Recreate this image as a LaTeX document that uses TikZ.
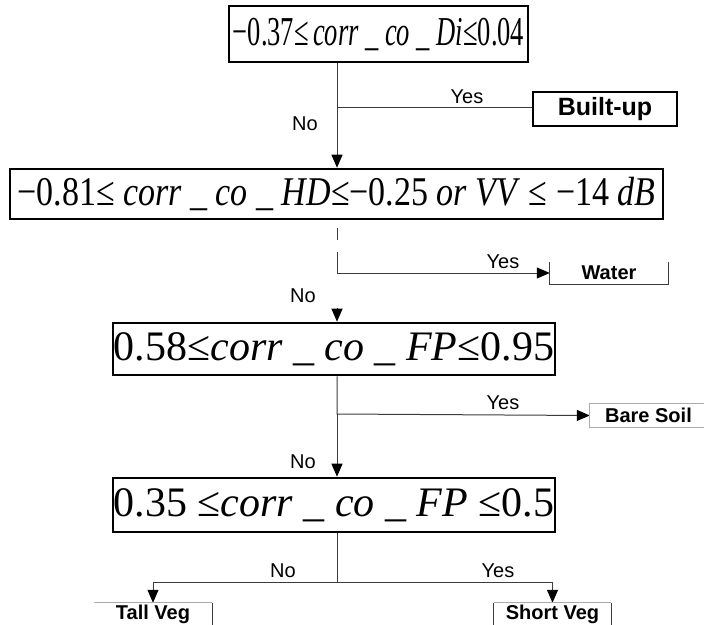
\documentclass[tikz,border=0pt]{standalone}
\usepackage{fontspec}
\setmainfont{Liberation Serif}
\newfontfamily\labelfont{Liberation Sans}
\usepackage{graphicx}
\usetikzlibrary{calc,arrows.meta}
\definecolor{linegray}{RGB}{60,60,60}
\definecolor{edgegray}{RGB}{170,170,170}
\newcommand{\stretched}[2]{\scalebox{1}[#1]{#2}}

\begin{document}
\begin{tikzpicture}[
  x=1pt, y=-1pt,
  decision/.style={draw=black, line width=2.6pt, inner sep=0pt,
    minimum width=#1},
  label/.style={font=\labelfont\fontsize{20}{20}\selectfont, inner sep=0pt},
  classbox/.style={font=\labelfont\bfseries\fontsize{20}{20}\selectfont, inner sep=0pt},
  link/.style={linegray, line width=1pt},
  arr/.style={link, -{Triangle[length=13pt, width=11pt, color=black]}},
]
  \useasboundingbox (0,0) rectangle (704,624);
  \clip (0,0) rectangle (704,624);

  % Decision 1: built-up
  \node[decision=299pt, minimum height=56pt,
    font=\fontsize{26.5}{26.5}\selectfont] (d1) at (378.5,34)
    {\stretched{1.55}{−0.37≤\,\textit{corr \_ co \_ Di}≤0.04}};
  \coordinate (j1) at (337,107);
  \node[classbox, draw=black, line width=1.6pt, minimum width=144pt,
    minimum height=34pt, font=\labelfont\bfseries\fontsize{25}{25}\selectfont]
    (builtup) at (605,109) {Built-up};
  \draw[link] (d1.south -| j1) -- (j1) -- (j1 -| builtup.west);
  \node[label] (yes1) at (467,97) {Yes};
  \node[label] (no1) at (305,124) {No};

  % Decision 2: water
  \node[decision=653pt, minimum height=50pt,
    font=\fontsize{34}{34}\selectfont] (d2) at (336.5,194)
    {\stretched{1.2}{−0.81≤ \textit{corr \_ co \_ HD}≤−0.25 \textit{or VV} ≤ −14 \textit{dB}}};
  \draw[arr] (j1) -- (d2.north -| j1);
  \coordinate (w0) at (337,228);
  \coordinate (w1) at (337,240);
  \coordinate (w2) at (337,252);
  \coordinate (j2) at (337,273);
  \node[classbox, minimum width=118pt, minimum height=22pt] (water) at (609,273) {Water};
  \draw[link] (w0) -- (w1);
  \draw[arr] (w2) -- (j2) -- (water.west);
  \draw[link] (water.north west) -- (water.south west) -- (water.south east)
    -- (water.north east);
  \node[label] (yes2) at (503,262) {Yes};
  \node[label] (no2) at (303,296) {No};

  % Decision 3: bare soil
  \node[decision=442pt, minimum height=52pt,
    font=\fontsize{42}{42}\selectfont] (d3) at (334,349)
    {0.58≤\textit{corr \_ co \_ FP}≤0.95};
  \coordinate (w3) at (337,308);
  \draw[arr] (w3) -- (d3.north -| w3);
  \coordinate (j3) at (337,414);
  \node[classbox, minimum width=114pt, minimum height=23pt] (bsoil) at (647,415.5)
    {\hspace*{3pt}Bare Soil};
  \draw[arr] (d3.south -| j3) -- (j3) -- (bsoil.west);
  \draw[link, edgegray] (bsoil.north east) -- (bsoil.north west) -- (bsoil.south west)
    -- (bsoil.south east);
  \node[label] (yes3) at (503,403) {Yes};
  \node[label] (no3) at (303,462) {No};

  % Decision 4: tall or short vegetation
  \node[decision=442pt, minimum height=54pt,
    font=\fontsize{42}{42}\selectfont] (d4) at (334,505)
    {0.35 ≤\textit{corr \_ co \_ FP} ≤0.5};
  \draw[arr] (j3) -- (d4.north -| j3);
  \coordinate (j4) at (337,582);
  \node[classbox, minimum width=118pt, minimum height=22pt] (tallveg) at (153,614) {Tall Veg};
  \node[classbox, minimum width=117pt, minimum height=22pt] (shortveg) at (552.5,614) {Short Veg};
  \draw[link] (d4.south -| j4) -- (j4);
  \draw[arr] (j4) -| (tallveg.north);
  \draw[arr] (j4) -| (shortveg.north);
  \draw[link, edgegray] (tallveg.north west) -- (tallveg.north east);
  \draw[link] (tallveg.north east) -- ++(0,30);
  \draw[link, edgegray] (shortveg.north west) -- (shortveg.north east);
  \draw[link] (shortveg.north west) -- ++(0,30);
  \draw[link] (shortveg.north east) -- ++(0,30);
  \node[label] (no4) at (283,571) {No};
  \node[label] (yes4) at (498,571) {Yes};
\end{tikzpicture}
\end{document}
